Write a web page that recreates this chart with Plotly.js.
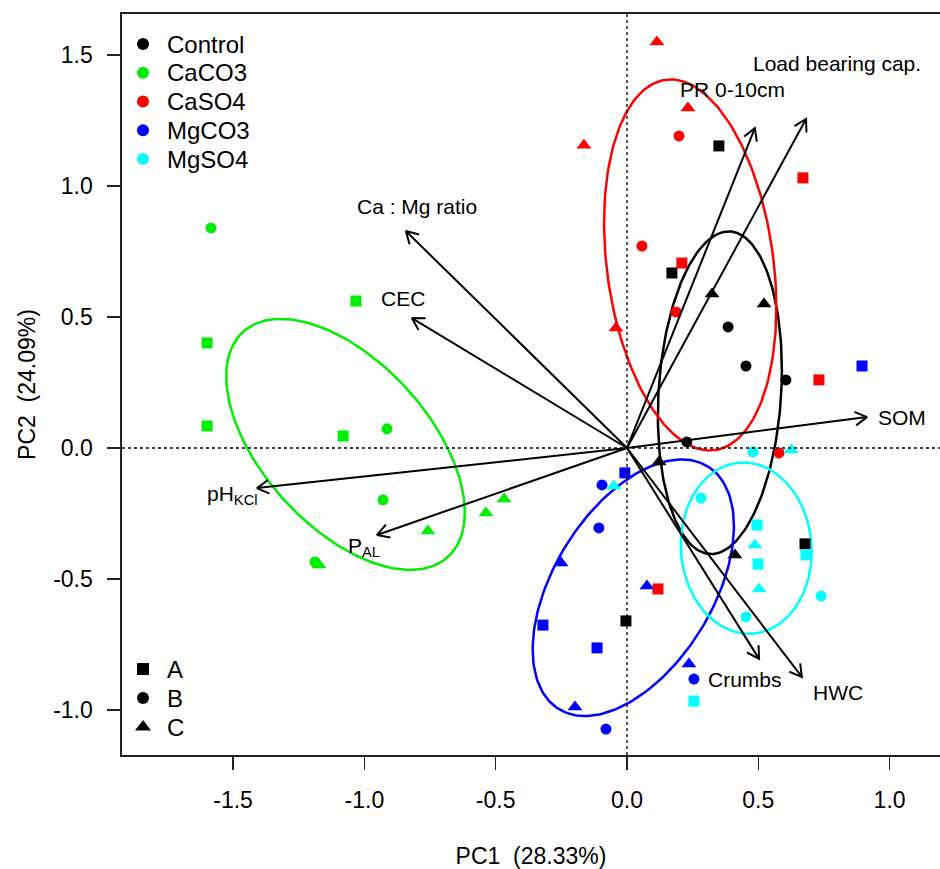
<!DOCTYPE html>
<html><head><meta charset="utf-8">
<script src="https://cdn.plot.ly/plotly-3.0.1.min.js"></script>
<style>html,body{margin:0;padding:0;background:#fff;overflow:hidden}</style>
</head><body><div id="chart" style="width:940px;height:869px"></div>
<script>
// ---- data ----
const groups = ['Control', 'CaCO3', 'CaSO4', 'MgCO3', 'MgSO4'];
const siteNames = ['A', 'B', 'C'];
// site of each sample, same order in every group
const sampleSite = ['A','A','A','A','B','B','B','B','C','C','C','C'];

const controlPC1 = [0.350, 0.171, 0.678, -0.004, 0.385, 0.453, 0.605, 0.228, 0.324, 0.522, 0.122, 0.411];
const controlPC2 = [1.153, 0.668, -0.366, -0.660, 0.462, 0.313, 0.260, 0.023, 0.588, 0.550, -0.053, -0.408];

const caco3PC1 = [-1.032, -1.599, -1.599, -1.081, -1.584, -0.914, -0.929, -1.188, -0.468, -0.537, -0.758, -1.173];
const caco3PC2 = [0.561, 0.401, 0.084, 0.046, 0.840, 0.073, -0.198, -0.435, -0.195, -0.248, -0.317, -0.447];

const caso4PC1 = [0.670, 0.209, 0.731, 0.118, 0.198, 0.057, 0.187, 0.579, 0.114, 0.232, -0.164, -0.042];
const caso4PC2 = [1.031, 0.706, 0.260, -0.538, 1.191, 0.771, 0.519, -0.019, 1.550, 1.298, 1.156, 0.458];

const mgco3PC1 = [0.895, -0.008, -0.320, -0.114, -0.095, -0.107, 0.255, -0.080, -0.251, 0.076, 0.236, -0.198];
const mgco3PC2 = [0.313, -0.095, -0.676, -0.763, -0.141, -0.305, -0.882, -1.073, -0.439, -0.527, -0.824, -0.989];

const mgso4PC1 = [0.495, 0.499, 0.682, 0.255, 0.480, 0.282, 0.739, 0.453, 0.625, -0.050, 0.487, 0.503];
const mgso4PC2 = [-0.294, -0.443, -0.408, -0.966, -0.015, -0.191, -0.565, -0.645, -0.008, -0.145, -0.370, -0.538];

// variable loadings (arrow tips) and label positions
const varNames = ['Load bearing cap.', 'PR 0-10cm', 'Ca : Mg ratio', 'CEC', 'SOM', 'pH<sub>KCl</sub>', 'P<sub>AL</sub>', 'Crumbs', 'HWC'];
const loadPC1 = [0.682, 0.487, -0.842, -0.819, 0.914, -1.409, -0.952, 0.503, 0.666];
const loadPC2 = [1.256, 1.221, 0.828, 0.496, 0.118, -0.153, -0.332, -0.805, -0.874];
const labelPC1 = [0.800, 0.400, -0.800, -0.853, 1.047, -1.504, -1.000, 0.449, 0.803];
const labelPC2 = [1.469, 1.370, 0.920, 0.569, 0.118, -0.179, -0.378, -0.882, -0.935];

const xTickVals = [-1.5, -1.0, -0.5, 0.0, 0.5, 1.0];
const xTickText = ['-1.5', '-1.0', '-0.5', '0.0', '0.5', '1.0'];
const yTickVals = [-1.0, -0.5, 0.0, 0.5, 1.0, 1.5];
const yTickText = ['-1.0', '-0.5', '0.0', '0.5', '1.0', '1.5'];

// ---- styling / layout constants ----
const groupColors = ['#000000', '#00EE00', '#FF0000', '#0000FF', '#00FFFF'];
const siteSymbols = { A: 'square', B: 'circle', C: 'triangle-up' };
const symbolSize = { square: 11, circle: 11, 'triangle-up': 13 };
const FONT = 'Liberation Sans, Arial, sans-serif';
const W = 940, H = 869, ML = 122, MT = 14, MB = 114;
const plotW = W - ML, plotH = H - MT - MB;
const groupPC1 = [controlPC1, caco3PC1, caso4PC1, mgco3PC1, mgso4PC1];
const groupPC2 = [controlPC2, caco3PC2, caso4PC2, mgco3PC2, mgso4PC2];

const traces = [];

// 50% normal-theory ellipse from each group's mean and covariance
const kEll = Math.sqrt(-2 * Math.log(1 - 0.5));
groups.forEach((g, i) => {
  const xs = groupPC1[i], ys = groupPC2[i], n = xs.length;
  const mx = xs.reduce((a, b) => a + b, 0) / n;
  const my = ys.reduce((a, b) => a + b, 0) / n;
  let sxx = 0, syy = 0, sxy = 0;
  for (let j = 0; j < n; j++) {
    sxx += (xs[j] - mx) ** 2; syy += (ys[j] - my) ** 2; sxy += (xs[j] - mx) * (ys[j] - my);
  }
  sxx /= (n - 1); syy /= (n - 1); sxy /= (n - 1);
  const a = Math.sqrt(sxx), b = sxy / a, c = Math.sqrt(syy - b * b);
  const ex = [], ey = [];
  for (let t = 0; t <= 200; t++) {
    const th = 2 * Math.PI * t / 200;
    ex.push(mx + kEll * a * Math.cos(th));
    ey.push(my + kEll * (b * Math.cos(th) + c * Math.sin(th)));
  }
  traces.push({ x: ex, y: ey, mode: 'lines', line: { color: groupColors[i], width: 2.5 },
    showlegend: false, hoverinfo: 'skip' });
});

// sample points
groups.forEach((g, i) => {
  const syms = sampleSite.map(s => siteSymbols[s]);
  traces.push({ x: groupPC1[i], y: groupPC2[i], mode: 'markers', name: g, showlegend: false,
    marker: { color: groupColors[i], opacity: 1, size: syms.map(s => symbolSize[s]), symbol: syms, line: { width: 0 } } });
});

// loading arrows (shaft + open head)
const ax = [], ay = [];
const headLen = 0.052, headAng = Math.PI / 6;
varNames.forEach((v, i) => {
  const tx = loadPC1[i], ty = loadPC2[i];
  const th = Math.atan2(ty, tx);
  ax.push(0, tx, null);
  ay.push(0, ty, null);
  ax.push(tx - headLen * Math.cos(th - headAng), tx, tx - headLen * Math.cos(th + headAng), null);
  ay.push(ty - headLen * Math.sin(th - headAng), ty, ty - headLen * Math.sin(th + headAng), null);
});
traces.push({ x: ax, y: ay, mode: 'lines', line: { color: '#000', width: 2 }, showlegend: false, hoverinfo: 'skip' });

// R-style legends drawn on an overlay axis measured in plot pixels
const legSymX = 21, legTextX = 43;
const legTop = plotH - 30, legStep = 28.75;      // treatment legend (top-left)
const leg2Bottom = 28, leg2Step = 29;            // site legend (bottom-left)
const annotations = [];
groups.forEach((g, i) => {
  const yy = legTop - i * legStep;
  traces.push({ x: [legSymX], y: [yy], xaxis: 'x2', yaxis: 'y2', mode: 'markers', showlegend: false,
    hoverinfo: 'skip', marker: { color: groupColors[i], opacity: 1, size: 12, symbol: 'circle', line: { width: 0 } } });
  annotations.push({ x: legTextX, y: yy, xref: 'x2', yref: 'y2', text: g, showarrow: false,
    xanchor: 'left', yanchor: 'middle', font: { family: FONT, size: 24, color: '#000' } });
});
siteNames.forEach((s, i) => {
  const yy = leg2Bottom + (siteNames.length - 1 - i) * leg2Step;
  const sym = siteSymbols[s];
  traces.push({ x: [legSymX], y: [yy], xaxis: 'x2', yaxis: 'y2', mode: 'markers', showlegend: false,
    hoverinfo: 'skip', marker: { color: '#000', opacity: 1, size: symbolSize[sym] + 1, symbol: sym, line: { width: 0 } } });
  annotations.push({ x: legTextX, y: yy, xref: 'x2', yref: 'y2', text: s, showarrow: false,
    xanchor: 'left', yanchor: 'middle', font: { family: FONT, size: 24, color: '#000' } });
});

// arrow labels
varNames.forEach((v, i) => {
  annotations.push({ x: labelPC1[i], y: labelPC2[i], xref: 'x', yref: 'y', text: v, showarrow: false,
    font: { family: FONT, size: 21, color: '#000' }, xanchor: 'center', yanchor: 'middle' });
});

const axisCommon = {
  showgrid: false, zeroline: false, showline: true, linecolor: '#222', linewidth: 1.6,
  ticks: 'outside', ticklen: 13, tickwidth: 1.3, tickcolor: '#222',
  tickfont: { family: FONT, size: 23, color: '#000' }
};

const layout = {
  width: W, height: H,
  margin: { l: ML, r: 0, t: MT, b: MB },
  paper_bgcolor: '#fff', plot_bgcolor: '#fff',
  font: { family: FONT, color: '#000' },
  showlegend: false,
  xaxis: Object.assign({}, axisCommon, {
    range: [-1.923, 1.192], tickvals: xTickVals, ticktext: xTickText, mirror: true,
    ticklabelstandoff: 11,
    title: { text: 'PC1\u00a0 (28.33%)', font: { family: FONT, size: 23, color: '#000' }, standoff: 36 }
  }),
  yaxis: Object.assign({}, axisCommon, {
    range: [-1.1718, 1.6565], tickvals: yTickVals, ticktext: yTickText, mirror: false,
    ticklabelstandoff: 10,
    title: { text: 'PC2\u00a0 (24.09%)', font: { family: FONT, size: 23, color: '#000' }, standoff: 11 }
  }),
  xaxis2: { overlaying: 'x', range: [0, plotW], visible: false, fixedrange: true },
  yaxis2: { overlaying: 'y', range: [0, plotH], visible: false, fixedrange: true },
  shapes: [
    { type: 'line', xref: 'x', yref: 'paper', x0: 0, x1: 0, y0: 0, y1: 1, line: { color: '#000', width: 1.3, dash: 'dot' } },
    { type: 'line', xref: 'paper', yref: 'y', x0: 0, x1: 1, y0: 0, y1: 0, line: { color: '#000', width: 1.3, dash: 'dot' } }
  ],
  annotations: annotations
};

Plotly.newPlot('chart', traces, layout, { displayModeBar: false, staticPlot: true });
</script></body></html>
